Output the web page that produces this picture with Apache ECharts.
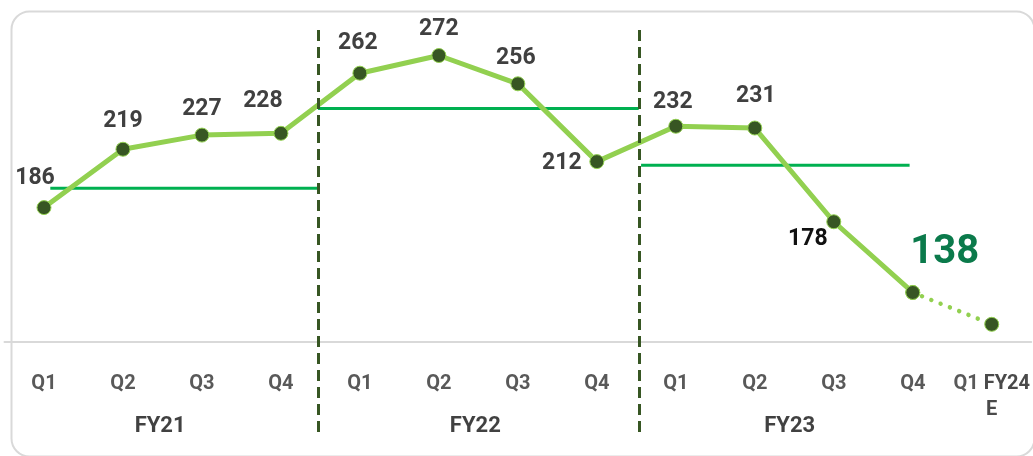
<!DOCTYPE html>
<html>
<head>
<meta charset="utf-8">
<script src="https://cdn.jsdelivr.net/npm/echarts@6/dist/echarts.min.js"></script>
<style>
  html, body { margin: 0; padding: 0; background: #fff; }
  #main { width: 1033px; height: 456px; }
</style>
</head>
<body>
<div id="main"></div>
<script>
// 季度分类
const quarters = ["Q1", "Q2", "Q3", "Q4", "Q1", "Q2", "Q3", "Q4", "Q1", "Q2", "Q3", "Q4", "Q1"];
// 数值 (最后一个为预估)
const values = [186, 219, 227, 228, 262, 272, 256, 212, 232, 231, 178, 138, 120];
const forecastIndex = 12;
// 财年分组
const fiscalYears = ["FY21", "FY22", "FY23"];
const fiscalCenters = [1.47, 5.46, 9.44];
const forecastTag = ["FY24", "E"];
// 各财年平均线: [起, 止, 值]
const avgLines = [
  [0.08, 3.47, 197],
  [3.47, 7.53, 242],
  [7.56, 10.96, 210],
];
// 财年分隔线位置
const separators = [3.47, 7.53];

const lineColor = "#92d050";
const dotColor = "#375623";
const avgColor = "#00b050";

// 标签偏移 (相对点中心)
const labelOffsets = [
  [-9, -29], [0, -28], [0, -26], [-18, -32], [-2, -30], [0, -26], [-2, -26],
  [-35, 2], [-3, -24], [1, -32], [-26, 18], [32, -39],
];

const solidData = values.map((v, i) => {
  if (i >= forecastIndex) return "-";
  const item = {
    value: v,
    label: {
      show: true,
      position: "inside",
      offset: labelOffsets[i],
      color: "#404040",
      fontSize: 23,
      fontWeight: "bold",
      fontFamily: "Roboto",
    },
  };
  if (v === 178) item.label.color = "#111";
  if (i === forecastIndex - 1) {
    item.label.color = "#0b7a4b";
    item.label.fontSize = 40;
  }
  return item;
});
const dottedData = values.map((v, i) => (i >= forecastIndex - 1 ? v : "-"));

const myChart = echarts.init(document.getElementById("main"));
myChart.setOption({
  animation: false,
  graphic: [
    {
      type: "rect",
      left: 9,
      top: 9,
      shape: { width: 1023, height: 445, r: 18 },
      style: { fill: "none", stroke: "#d9d9d9", lineWidth: 2 },
      z: -1,
    },
  ],
  grid: [
    { left: 4.5, right: 1.5, top: 6, bottom: 114 },
    { left: 4.5, right: 1.5, top: 25, bottom: 24 },
  ],
  xAxis: [
    {
      type: "category",
      gridIndex: 0,
      data: quarters,
      boundaryGap: true,
      axisLine: { show: true, lineStyle: { color: "#d9d9d9", width: 2 } },
      axisTick: { show: false },
      splitLine: { show: false },
      axisLabel: {
        margin: 29,
        color: "#595959",
        fontSize: 20,
        fontWeight: "bold",
        fontFamily: "Roboto",
        lineHeight: 26,
        interval: 0,
        formatter: (v, i) =>
          i === forecastIndex ? "{q|" + v + "} {f|" + forecastTag[0] + "}\n{f|" + forecastTag[1] + "}" : v,
        rich: {
          q: { color: "#595959", fontSize: 20, fontWeight: "bold", fontFamily: "Roboto", lineHeight: 26 },
          f: { color: "#4a4a4a", fontSize: 20, fontWeight: "bold", fontFamily: "Roboto", lineHeight: 26 },
        },
      },
    },
    { type: "value", gridIndex: 0, min: -0.5, max: 12.5, show: false },
    { type: "value", gridIndex: 1, min: -0.5, max: 12.5, show: false },
  ],
  yAxis: [
    { type: "value", gridIndex: 0, min: 110, max: 300, show: false, splitLine: { show: false } },
    { type: "value", gridIndex: 1, min: 0, max: 1, show: false, splitLine: { show: false } },
  ],
  series: [
    ...avgLines.map((a) => ({
      type: "line",
      xAxisIndex: 1,
      yAxisIndex: 0,
      data: [[a[0], a[2]], [a[1], a[2]]],
      symbol: "none",
      lineStyle: { color: avgColor, width: 3 },
      z: 1,
      silent: true,
    })),
    {
      type: "line",
      xAxisIndex: 2,
      yAxisIndex: 1,
      data: [],
      markLine: {
        symbol: "none",
        silent: true,
        label: { show: false },
        lineStyle: { color: dotColor, width: 3, type: [11, 6] },
        data: separators.map((s) => ({ xAxis: s })),
      },
      z: 2,
    },
    {
      type: "scatter",
      xAxisIndex: 2,
      yAxisIndex: 1,
      symbolSize: 0,
      data: fiscalYears.map((f, i) => ({ value: [fiscalCenters[i], 0], name: f })),
      label: {
        show: true,
        position: "inside",
        offset: [0, -6],
        formatter: (p) => p.name,
        color: "#111",
        fontSize: 22,
        fontWeight: "bold",
        fontFamily: "Roboto",
      },
    },
    {
      type: "line",
      xAxisIndex: 0,
      yAxisIndex: 0,
      data: dottedData,
      symbol: "circle",
      symbolSize: 14,
      itemStyle: { color: dotColor, borderColor: lineColor, borderWidth: 1 },
      lineStyle: { color: lineColor, width: 4.5, type: [0.01, 10], cap: "round" },
      z: 3,
    },
    {
      type: "line",
      xAxisIndex: 0,
      yAxisIndex: 0,
      data: solidData,
      symbol: "circle",
      symbolSize: 14,
      itemStyle: { color: dotColor, borderColor: lineColor, borderWidth: 1 },
      lineStyle: { color: lineColor, width: 5 },
      z: 4,
    },
  ],
});
</script>
</body>
</html>
